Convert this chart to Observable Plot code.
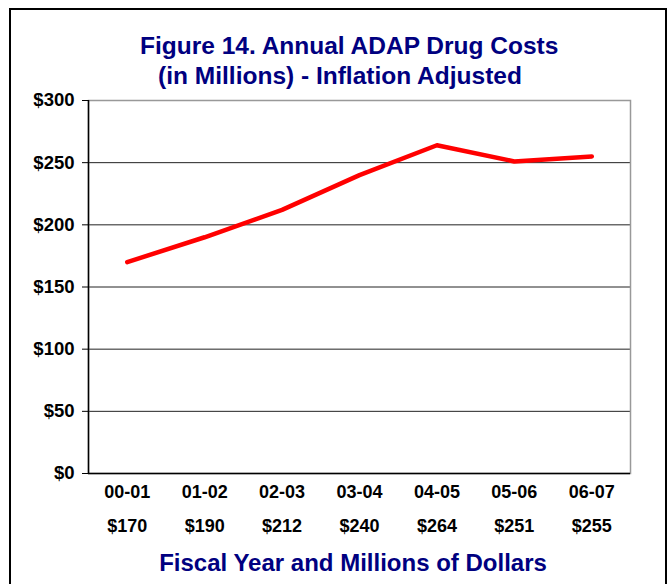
<!DOCTYPE html>
<html>
<head>
<meta charset="utf-8">
<script src="https://cdn.jsdelivr.net/npm/d3@7"></script>
<script src="https://cdn.jsdelivr.net/npm/@observablehq/plot@0.6"></script>
<style>
  html, body { margin:0; padding:0; background:#fff; overflow:hidden; width:670px; height:584px; }
  #wrap { position:relative; width:670px; height:584px; font-family:"Liberation Sans", Arial, sans-serif; }
  #border { position:absolute; left:9px; top:8px; width:658px; height:600px; border:2px solid #000; box-sizing:border-box; }
  .t { position:absolute; color:#000080; font-weight:bold; text-align:center; white-space:nowrap; }
  #chart { position:absolute; left:0; top:0; }
</style>
</head>
<body>
<div id="wrap">
  <div id="border"></div>
  <div id="chart"></div>
  <div class="t" style="left:140px; width:400px; top:31px; font-size:24.5px; line-height:30px;">Figure 14. Annual ADAP Drug Costs<br>(in Millions) - Inflation Adjusted</div>
  <div class="t" style="left:153px; width:400px; top:548px; font-size:24px; line-height:30px;">Fiscal Year and Millions of Dollars</div>
</div>
<script>
const years = ["00-01", "01-02", "02-03", "03-04", "04-05", "05-06", "06-07"];
const costs = [170, 190, 212, 240, 264, 251, 255];
const costLabels = ["$170", "$190", "$212", "$240", "$264", "$251", "$255"];
const yTicks = [0, 50, 100, 150, 200, 250, 300];
const gridTicks = [50, 100, 150, 200, 250];

const data = years.map((y, i) => ({year: y, idx: i, cost: costs[i]}));
const idx = years.map((_, i) => i);

const chart = Plot.plot({
  width: 670,
  height: 584,
  marginLeft: 88,
  marginRight: 40,
  marginTop: 100,
  marginBottom: 111,
  style: {fontFamily: "'Liberation Sans', Arial, sans-serif", background: "transparent", overflow: "visible"},
  x: {type: "linear", domain: [-0.5, years.length - 0.5]},
  y: {domain: [0, 300]},
  marks: [
    Plot.gridY(gridTicks, {stroke: "#222", strokeOpacity: 1, strokeWidth: 1}),
    Plot.frame({stroke: "#999", strokeWidth: 1.5}),
    Plot.ruleY([0], {stroke: "#000", strokeWidth: 1.5}),
    Plot.ruleX([-0.5], {stroke: "#000", strokeWidth: 1.5}),
    Plot.axisY(yTicks, {tickSize: 6, tickPadding: 8, tickFormat: d => "$" + d, fontSize: 18.5, fontWeight: "bold", fill: "#000", stroke: "#000", strokeWidth: 1, label: null}),
    Plot.axisX(idx, {tickSize: 0, tickPadding: 12, tickFormat: i => years[i], fontSize: 18, fontWeight: "bold", fill: "#000", label: null}),
    Plot.axisX(idx, {tickSize: 0, tickPadding: 46, tickFormat: i => costLabels[i], fontSize: 18, fontWeight: "bold", fill: "#000", label: null}),
    Plot.line(data, {x: "idx", y: "cost", stroke: "#ff0000", strokeWidth: 4.5, strokeLinejoin: "round", strokeLinecap: "round"})
  ]
});
document.getElementById("chart").appendChild(chart);
</script>
</body>
</html>
